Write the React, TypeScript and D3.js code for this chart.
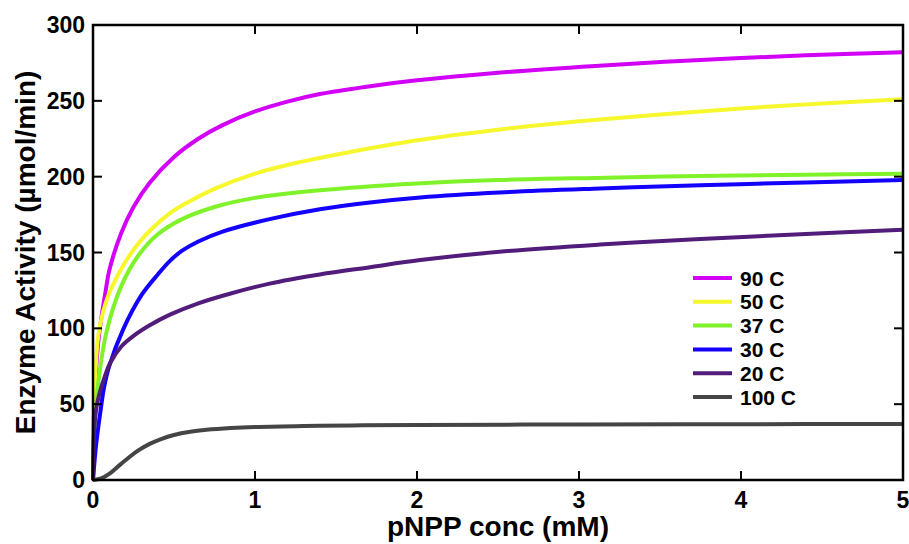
import React from 'react';
import * as d3 from 'd3';

// pNPP concentration (mM) and activity (µmol/min)
const x90 = [0, 0.005, 0.02, 0.04, 0.08, 0.1, 0.175, 0.25, 0.35, 0.5, 0.65, 0.8, 1.0, 1.2, 1.4, 1.7, 2.0, 2.5, 3.1, 3.75, 4.4, 5];
const y90 = [0, 40, 75, 98, 126, 138, 163, 180, 196, 213, 225, 234, 243, 249.5, 254.5, 259.5, 263.5, 268.5, 273, 277, 280, 282];

const x50 = [0, 0.005, 0.01, 0.031, 0.06, 0.12, 0.28, 0.475, 0.6, 0.75, 1.0, 1.25, 1.5, 2.0, 2.5, 3.0, 3.5, 4.0, 4.5, 5];
const y50 = [0, 38, 60, 94, 110, 128, 156, 176, 184, 192, 202, 209, 214.5, 224, 231, 236.5, 241, 245, 248.3, 251];

const x37 = [0, 0.005, 0.015, 0.03, 0.082, 0.175, 0.28, 0.4, 0.55, 0.75, 1.0, 1.4, 2.0, 2.5, 3.1, 3.75, 4.4, 5];
const y37 = [0, 25, 45, 62, 97, 128, 148, 162, 172, 180, 186, 191, 195.5, 197.8, 199.2, 200.4, 201.3, 202];

const x30 = [0, 0.01, 0.02, 0.047, 0.07, 0.1, 0.185, 0.3, 0.4, 0.475, 0.55, 0.65, 0.8, 1.09, 1.4, 1.71, 2.02, 2.51, 3.13, 3.75, 4.4, 5];
const y30 = [0, 13, 24, 46, 62, 75, 99, 122, 135.5, 144.5, 151.2, 157.3, 163.8, 172, 178.5, 183, 186.3, 189.6, 192.2, 194.3, 196.2, 197.8];

const x20 = [0, 0.005, 0.02, 0.045, 0.072, 0.105, 0.175, 0.25, 0.35, 0.475, 0.65, 0.85, 1.09, 1.4, 1.71, 2.02, 2.51, 3.13, 3.75, 4.4, 5];
const y20 = [0, 28, 47, 59, 68, 77, 88, 95, 102, 109, 116.5, 123, 129.5, 135.5, 140.3, 145, 150.5, 155.2, 158.9, 162.2, 165];

const x100 = [0, 0.05, 0.1, 0.15, 0.2, 0.28, 0.35, 0.42, 0.5, 0.6, 0.7, 0.85, 1.0, 1.3, 1.6, 2, 3, 4, 5];
const y100 = [0, 1, 4, 8.5, 13, 19.5, 23.8, 27, 29.7, 31.8, 33.1, 34.3, 35, 35.6, 36, 36.3, 36.6, 36.8, 37];

const seriesNames = ['90 C', '50 C', '37 C', '30 C', '20 C', '100 C'];
const seriesColors = ['#d200f7', '#f7f72e', '#7ff22a', '#1400ff', '#521c7a', '#454545'];

const xTicks = [0, 1, 2, 3, 4, 5];
const yTicks = [0, 50, 100, 150, 200, 250, 300];

const W = 909;
const H = 544;
const margin = { left: 93, right: 6, top: 25, bottom: 64 };
const font = '"Liberation Sans", Arial, Helvetica, sans-serif';

const App = () => {
  const xs = [x90, x50, x37, x30, x20, x100];
  const ys = [y90, y50, y37, y30, y20, y100];

  const x = d3.scaleLinear().domain([0, 5]).range([margin.left, W - margin.right]);
  const y = d3.scaleLinear().domain([0, 300]).range([H - margin.bottom, margin.top]);

  const line = d3.line<[number, number]>()
    .x(d => x(d[0]))
    .y(d => y(d[1]))
    .curve(d3.curveCatmullRom.alpha(0.5));

  const x0 = x(0), x1 = x(5), yb = y(0), yt = y(300);
  const tickLen = 9;

  // legend position
  const legX = 693;
  const legY = 278;
  const legStep = 23.8;

  return (
    <svg width={W} height={H} style={{ position: 'absolute', left: 0, top: 0, background: '#fff' }}>
      {/* curves */}
      {xs.map((xv, i) => (
        <path
          key={seriesNames[i]}
          d={line(xv.map((v, j) => [v, ys[i][j]] as [number, number])) || ''}
          fill="none"
          stroke={seriesColors[i]}
          strokeWidth={4}
        />
      ))}

      {/* frame */}
      <rect x={x0} y={yt} width={x1 - x0} height={yb - yt} fill="none" stroke="#000" strokeWidth={2.5} />

      {/* x ticks, bottom and top, pointing inward */}
      {xTicks.map(t => (
        <g key={'xt' + t}>
          <line x1={x(t)} x2={x(t)} y1={yb} y2={yb - tickLen} stroke="#000" strokeWidth={2} />
          <line x1={x(t)} x2={x(t)} y1={yt} y2={yt + tickLen} stroke="#000" strokeWidth={2} />
          <text x={x(t)} y={yb + 28} textAnchor="middle" fontFamily={font} fontWeight="bold" fontSize={23}>
            {t}
          </text>
        </g>
      ))}

      {/* y ticks, left and right */}
      {yTicks.map(t => (
        <g key={'yt' + t}>
          <line x1={x0} x2={x0 + tickLen} y1={y(t)} y2={y(t)} stroke="#000" strokeWidth={2} />
          <line x1={x1} x2={x1 - tickLen} y1={y(t)} y2={y(t)} stroke="#000" strokeWidth={2} />
          <text x={x0 - 8} y={y(t) + 8} textAnchor="end" fontFamily={font} fontWeight="bold" fontSize={23}>
            {t}
          </text>
        </g>
      ))}

      {/* axis titles */}
      <text x={(x0 + x1) / 2} y={536} textAnchor="middle" fontFamily={font} fontWeight="bold" fontSize={28}>
        pNPP conc (mM)
      </text>
      <text
        transform={`translate(35, ${(yt + yb) / 2}) rotate(-90)`}
        textAnchor="middle"
        fontFamily={font}
        fontWeight="bold"
        fontSize={28}
      >
        Enzyme Activity (µmol/min)
      </text>

      {/* legend */}
      {seriesNames.map((name, i) => (
        <g key={'leg' + name} transform={`translate(${legX}, ${legY + i * legStep})`}>
          <line x1={0} x2={39} y1={0} y2={0} stroke={seriesColors[i]} strokeWidth={4} />
          <text x={47} y={7.5} fontFamily={font} fontWeight="bold" fontSize={21}>
            {name}
          </text>
        </g>
      ))}
    </svg>
  );
};

export default App;
